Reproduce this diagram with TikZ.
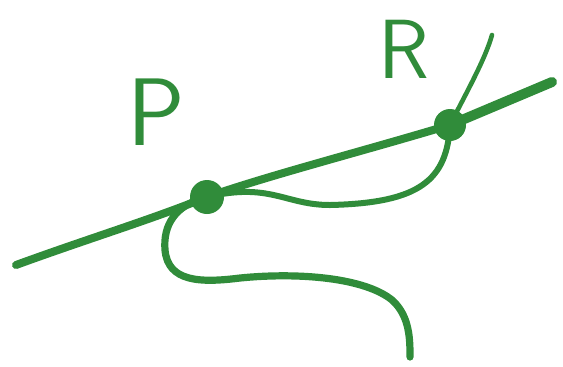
\documentclass[tikz,border=0pt]{standalone}
\usetikzlibrary{positioning}
\definecolor{sketchgreen}{RGB}{48,140,58}

\begin{document}
\begin{tikzpicture}[
        x=0.5pt, y=-0.5pt,
        stroke/.style={draw=sketchgreen, line width=4pt, line cap=round, line join=round},
        blob/.style={circle, fill=sketchgreen, minimum size=17pt, inner sep=0pt},
        letter/.style={text=sketchgreen, inner sep=0pt, font=\sffamily\fontsize{48}{48}\selectfont}
    ]
        \useasboundingbox (0,0) rectangle (563,366);

        % Nodes
        \node[blob] (P) at (207,197) {};
        \node[blob, minimum size=16pt] (R) at (450,125) {};
        \node[letter] (Plab) at (156,112) {P};
        \node[letter, font=\sffamily\fontsize{42}{42}\selectfont] (Rlab) at (404,49) {R};

        \coordinate (left) at (16,265);
        \coordinate (right) at (552,82);
        \coordinate (top) at (492,35);
        \coordinate (bottom) at (410,357);

        % Paths
        \draw[stroke] (left) .. controls (90,238) and (150,220) .. (P.center)
            .. controls (270,175) and (360,152) .. (R.center);
        \draw[stroke, line width=5pt] (R.center) -- (right);
        \draw[stroke, line width=3pt] (P.center) .. controls (270,182) and (285,205) .. (330,205)
            .. controls (420,203) and (447,180) .. (R.center);
        \draw[stroke, line width=2.3pt] (R.center) .. controls (465,95) and (485,60) .. (top);
        \draw[stroke, line width=3.6pt] (P.center) .. controls (175,205) and (163,225) .. (165,250)
            .. controls (168,282) and (200,283) .. (240,278)
            .. controls (300,272) and (365,278) .. (392,300)
            .. controls (410,316) and (410,340) .. (bottom);
    \end{tikzpicture}
\end{document}
